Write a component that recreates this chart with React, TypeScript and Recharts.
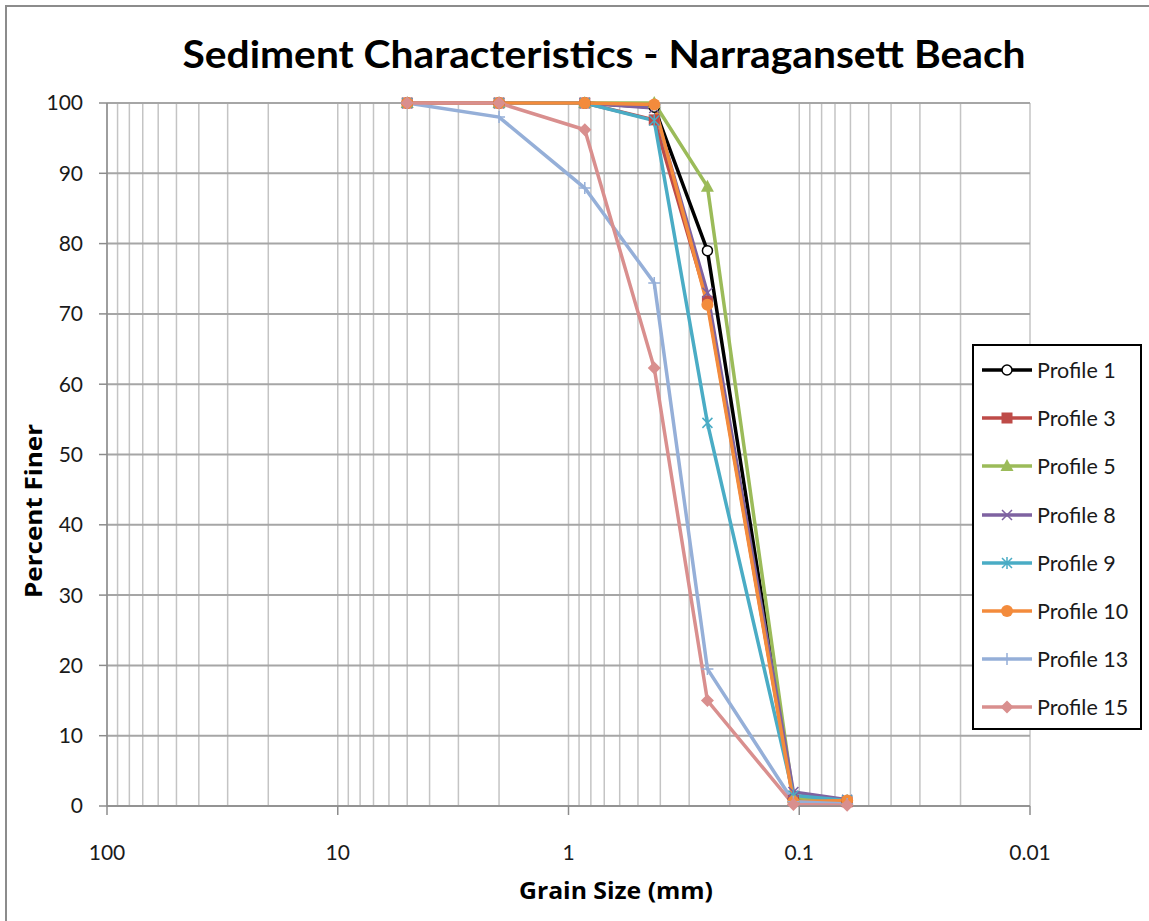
import React from 'react';
import { LineChart, Line, XAxis, YAxis, CartesianGrid, Legend } from 'recharts';

// sieve sizes (mm), coarse to fine
const grainSizes = [5, 2, 0.85, 0.425, 0.25, 0.106, 0.062];

// percent finer at each sieve
const profile1 = [100, 100, 100, 99.4, 79, 1.0, 0.6];
const profile3 = [100, 100, 100, 97.6, 71.8, 0.8, 0.6];
const profile5 = [100, 100, 100, 100, 88.1, 1.2, 0.7];
const profile8 = [100, 100, 100, 99.3, 73, 2.0, 0.9];
const profile9 = [100, 100, 100, 97.5, 54.5, 1.5, 0.8];
const profile10 = [100, 100, 100, 99.8, 71.3, 0.6, 0.8];
const profile13 = [100, 98, 87.9, 74.4, 19.5, 0.6, 0.3];
const profile15 = [100, 100, 96.2, 62.3, 15, 0.2, 0.1];

const majorTicks = [100, 10, 1, 0.1, 0.01];
const minorSteps = [2, 3, 4, 5, 6, 7, 8, 9];
const percentTicks = [0, 10, 20, 30, 40, 50, 60, 70, 80, 90, 100];

const FONT = 'Lato, "Open Sans", sans-serif';
const TITLE_FONT = '"Open Sans", Lato, sans-serif';

type Shape = 'openCircle' | 'square' | 'triangle' | 'cross' | 'star' | 'circle' | 'plus' | 'diamond';

interface Series {
  key: string;
  name: string;
  color: string;
  shape: Shape;
  values: number[];
}

const series: Series[] = [
  { key: 'p1', name: 'Profile 1', color: '#000000', shape: 'openCircle', values: profile1 },
  { key: 'p3', name: 'Profile 3', color: '#BE4B48', shape: 'square', values: profile3 },
  { key: 'p5', name: 'Profile 5', color: '#9BBB59', shape: 'triangle', values: profile5 },
  { key: 'p8', name: 'Profile 8', color: '#7E62A1', shape: 'cross', values: profile8 },
  { key: 'p9', name: 'Profile 9', color: '#4AACC5', shape: 'star', values: profile9 },
  { key: 'p10', name: 'Profile 10', color: '#F38B3C', shape: 'circle', values: profile10 },
  { key: 'p13', name: 'Profile 13', color: '#95AFD8', shape: 'plus', values: profile13 },
  { key: 'p15', name: 'Profile 15', color: '#D98F8E', shape: 'diamond', values: profile15 },
];

const rows = grainSizes.map((size, i) => {
  const row: Record<string, number> = { size };
  series.forEach((s) => {
    row[s.key] = s.values[i];
  });
  return row;
});

// log grid: every decade gets lines at 2..9
const minorTicks = majorTicks.slice(0, -1).flatMap((m) => minorSteps.map((k) => (m / 10) * k));
const xTicks = [...majorTicks, ...minorTicks].sort((a, b) => b - a);

const Marker = ({ shape, cx, cy, color }: { shape: Shape; cx: number; cy: number; color: string }) => {
  switch (shape) {
    case 'openCircle':
      return <circle cx={cx} cy={cy} r={5} fill="#fff" stroke={color} strokeWidth={1.5} />;
    case 'circle':
      return <circle cx={cx} cy={cy} r={6} fill={color} />;
    case 'square':
      return <rect x={cx - 5.5} y={cy - 5.5} width={11} height={11} fill={color} />;
    case 'triangle':
      return <polygon points={`${cx},${cy - 7} ${cx + 6.5},${cy + 5} ${cx - 6.5},${cy + 5}`} fill={color} />;
    case 'diamond':
      return <polygon points={`${cx},${cy - 6.5} ${cx + 6.5},${cy} ${cx},${cy + 6.5} ${cx - 6.5},${cy}`} fill={color} />;
    case 'cross':
      return (
        <path d={`M${cx - 5},${cy - 5}L${cx + 5},${cy + 5}M${cx + 5},${cy - 5}L${cx - 5},${cy + 5}`} stroke={color} strokeWidth={1.5} />
      );
    case 'star':
      return (
        <path
          d={`M${cx - 5},${cy - 5}L${cx + 5},${cy + 5}M${cx + 5},${cy - 5}L${cx - 5},${cy + 5}M${cx},${cy - 6}L${cx},${cy + 6}`}
          stroke={color}
          strokeWidth={1.5}
        />
      );
    case 'plus':
      return <path d={`M${cx - 6},${cy}L${cx + 6},${cy}M${cx},${cy - 6}L${cx},${cy + 6}`} stroke={color} strokeWidth={1.5} />;
    default:
      return null;
  }
};

const GrainTick = ({ x, y, payload }: any) => {
  if (!majorTicks.includes(payload.value)) return <g />;
  return (
    <g>
      <line x1={x} x2={x} y1={y} y2={y + 9} stroke="#8c8c8c" strokeWidth={1.5} />
      <text x={x} y={y + 54} textAnchor="middle" fontSize={21} fill="#1a1a1a" fontFamily={FONT}>
        {payload.value}
      </text>
    </g>
  );
};

const renderLegend = () => (
  <div
    style={{
      boxSizing: 'border-box',
      width: 170,
      height: 386,
      border: '2px solid #000',
      background: '#fff',
      fontFamily: FONT,
    }}
  >
    {series.map((s) => (
      <div key={s.key} style={{ display: 'flex', alignItems: 'center', height: 48.2 }}>
        <svg width={60} height={20} style={{ marginLeft: 6 }}>
          <line x1={2} x2={52} y1={10} y2={10} stroke={s.color} strokeWidth={3.5} />
          <Marker shape={s.shape} cx={27} cy={10} color={s.color} />
        </svg>
        <span style={{ fontSize: 21.5, color: '#1a1a1a', marginLeft: -3 }}>{s.name}</span>
      </div>
    ))}
  </div>
);

export default function App() {
  return (
    <div style={{ position: 'absolute', left: 0, top: 0, width: 1149, height: 921, overflow: 'hidden', background: '#fff' }}>
      <div style={{ position: 'absolute', left: 5, top: 5, width: 1170, height: 940, border: '2px solid #8c8c8c' }} />
      <LineChart width={1149} height={921} data={rows} margin={{ top: 103, right: 119, bottom: 75, left: 47 }}>
        <CartesianGrid horizontal={false} stroke="#c4c4c4" strokeWidth={1.5} />
        <CartesianGrid vertical={false} stroke="#a6a6a6" strokeWidth={2} />
        <XAxis
          dataKey="size"
          type="number"
          scale="log"
          domain={[0.01, 100]}
          reversed
          ticks={xTicks}
          interval={0}
          tick={<GrainTick />}
          tickLine={false}
          tickSize={0}
          tickMargin={0}
          height={40}
          axisLine={{ stroke: '#8c8c8c', strokeWidth: 1.5 }}
        />
        <YAxis
          type="number"
          domain={[0, 100]}
          ticks={percentTicks}
          interval={0}
          width={60}
          tickSize={8}
          tickMargin={16}
          tickLine={{ stroke: '#8c8c8c', strokeWidth: 1.5 }}
          axisLine={{ stroke: '#8c8c8c', strokeWidth: 1.5 }}
          tick={{ fontSize: 21, fill: '#1a1a1a', fontFamily: FONT }}
        />
        {series.map((s) => (
          <Line
            key={s.key}
            dataKey={s.key}
            name={s.name}
            type="linear"
            stroke={s.color}
            strokeWidth={3.5}
            isAnimationActive={false}
            activeDot={false}
            dot={(p: any) => (
              <g key={`${s.key}-${p.index}`}>
                <Marker shape={s.shape} cx={p.cx} cy={p.cy} color={s.color} />
              </g>
            )}
          />
        ))}
        <Legend
          layout="vertical"
          align="center"
          verticalAlign="middle"
          content={renderLegend}
          wrapperStyle={{ left: 972, top: 344, width: 170, height: 386 }}
        />
      </LineChart>
      <svg width={1149} height={921} style={{ position: 'absolute', left: 0, top: 0, pointerEvents: 'none' }}>
        <text x={604} y={68} textAnchor="middle" fontSize={38} fontWeight={700} fontFamily={FONT} fill="#000" textLength={843} lengthAdjust="spacingAndGlyphs">
          Sediment Characteristics - Narragansett Beach
        </text>
        <text x={616} y={899} textAnchor="middle" fontSize={24} fontWeight={700} fontFamily={TITLE_FONT} fill="#000" textLength={194} lengthAdjust="spacingAndGlyphs">
          Grain Size (mm)
        </text>
        <text
          x={42}
          y={511}
          textAnchor="middle"
          fontSize={24}
          fontWeight={700}
          fontFamily={TITLE_FONT}
          fill="#000"
          textLength={174}
          lengthAdjust="spacingAndGlyphs"
          transform="rotate(-90 42 511)"
        >
          Percent Finer
        </text>
      </svg>
    </div>
  );
}
